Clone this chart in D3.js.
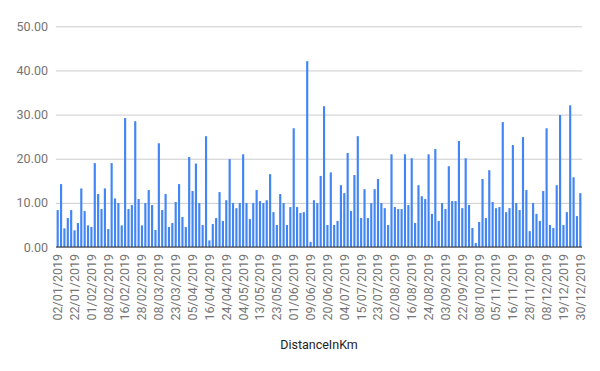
<!DOCTYPE html>
<html>
<head>
<meta charset="utf-8">
<script src="https://cdn.jsdelivr.net/npm/d3@7"></script>
<style>
  html, body { margin: 0; padding: 0; background: #fff; }
  svg { display: block; font-family: Roboto, Arial, sans-serif; }
</style>
</head>
<body>
<svg id="chart" width="600" height="371"></svg>
<script>
// Distance (km) per ride, in order
const distances = [
  8.37, 14.25, 4.22, 6.56, 8.37, 3.77, 5.43, 13.27, 8.14, 4.9,
  4.52, 19.0, 12.0, 8.6, 13.27, 4.07, 19.0, 11.0, 9.95, 4.9,
  29.2, 8.6, 9.5, 28.5, 10.86, 4.9, 9.95, 12.9, 9.5, 3.85,
  23.5, 8.37, 12.0, 4.52, 5.43, 10.2, 14.25, 6.8, 4.52, 20.4,
  12.67, 18.9, 9.95, 4.98, 25.1, 1.5, 5.2, 6.56, 12.44, 5.9,
  10.6, 19.9, 9.95, 8.8, 9.95, 21.0, 9.95, 6.33, 9.95, 12.9,
  10.4, 9.95, 10.6, 16.5, 7.9, 4.98, 12.0, 9.95, 4.98, 9.05,
  26.9, 9.05, 7.7, 7.9, 42.1, 1.13, 10.6, 9.95, 16.1, 31.9,
  4.98, 16.9, 4.98, 5.9, 14.0, 12.2, 21.3, 8.14, 16.3, 25.1,
  6.56, 13.1, 6.56, 9.95, 13.1, 15.4, 9.95, 8.8, 4.98, 21.0,
  9.05, 8.6, 8.6, 21.0, 9.5, 20.1, 5.43, 14.0, 11.5, 10.86,
  21.0, 7.5, 22.2, 5.9, 9.95, 8.6, 18.3, 10.4, 10.4, 24.0,
  8.8, 20.1, 9.5, 4.3, 0.9, 5.66, 15.4, 6.56, 17.4, 10.2,
  8.8, 9.05, 28.3, 7.9, 8.8, 23.1, 9.95, 8.37, 24.9, 12.9,
  3.6, 9.95, 7.5, 5.9, 12.67, 26.9, 4.98, 4.3, 14.0, 29.9,
  4.98, 7.9, 32.1, 15.8, 7.0, 12.2
];

// Dates shown on the x axis (one every 5 bars)
const tickLabels = [
  "02/01/2019", "22/01/2019", "01/02/2019", "08/02/2019", "16/02/2019",
  "28/02/2019", "08/03/2019", "23/03/2019", "05/04/2019", "16/04/2019",
  "24/04/2019", "04/05/2019", "13/05/2019", "23/05/2019", "01/06/2019",
  "09/06/2019", "20/06/2019", "04/07/2019", "15/07/2019", "23/07/2019",
  "02/08/2019", "16/08/2019", "24/08/2019", "03/09/2019", "22/09/2019",
  "08/10/2019", "05/11/2019", "16/11/2019", "28/11/2019", "08/12/2019",
  "19/12/2019", "30/12/2019"
];
const labelEvery = 5;

const yTicks = [0, 10, 20, 30, 40, 50];
const axisTitle = "DistanceInKm";

const svg = d3.select("#chart");
const mLeft = 56, mRight = 582, mTop = 26.3, mBottom = 247;

const x = d3.scaleBand()
  .domain(d3.range(distances.length))
  .range([mLeft, mRight])
  .paddingInner(0.36)
  .paddingOuter(0.18);

const y = d3.scaleLinear().domain([0, 50]).range([mBottom, mTop]);

// gridlines + y labels
const yAxis = d3.axisLeft(y)
  .tickValues(yTicks)
  .tickSize(-(mRight - mLeft))
  .tickPadding(8)
  .tickFormat(d3.format(".2f"));

const gy = svg.append("g")
  .attr("transform", `translate(${mLeft},0)`)
  .call(yAxis);
gy.select(".domain").remove();
gy.selectAll(".tick line").attr("stroke", "#cccccc").attr("stroke-width", 1);
gy.selectAll(".tick text")
  .attr("fill", "#757575")
  .attr("font-size", 12.5)
  .attr("font-family", "Roboto, Arial, sans-serif");

// bars
svg.append("g")
  .selectAll("rect")
  .data(distances)
  .join("rect")
  .attr("x", (d, i) => x(i))
  .attr("width", x.bandwidth())
  .attr("y", d => y(d))
  .attr("height", d => y(0) - y(d))
  .attr("fill", "#4285f4");

// baseline
svg.append("line")
  .attr("x1", mLeft).attr("x2", mRight)
  .attr("y1", y(0)).attr("y2", y(0))
  .attr("stroke", "#333333").attr("stroke-width", 1);

// x axis labels
const xAxis = d3.axisBottom(x)
  .tickValues(d3.range(0, distances.length, labelEvery))
  .tickSize(0)
  .tickFormat((d) => tickLabels[d / labelEvery]);

const gx = svg.append("g")
  .attr("transform", `translate(0,${mBottom})`)
  .call(xAxis);
gx.select(".domain").remove();
gx.selectAll(".tick text")
  .attr("fill", "#757575")
  .attr("font-size", 12.5)
  .attr("font-family", "Roboto, Arial, sans-serif")
  .attr("transform", "rotate(-90)")
  .attr("text-anchor", "end")
  .attr("x", -7)
  .attr("y", 0)
  .attr("dy", "0.35em");

// axis title
svg.append("text")
  .attr("x", (mLeft + mRight) / 2)
  .attr("y", 349)
  .attr("text-anchor", "middle")
  .attr("fill", "#222222")
  .attr("font-size", 12.5)
  .attr("font-family", "Roboto, Arial, sans-serif")
  .text(axisTitle);
</script>
</body>
</html>
